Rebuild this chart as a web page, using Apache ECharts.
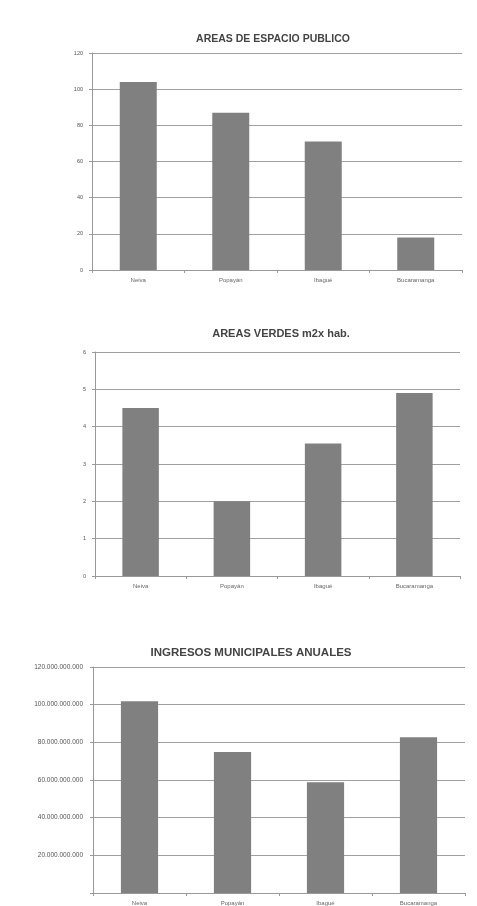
<!DOCTYPE html>
<html>
<head>
<meta charset="utf-8">
<script src="https://cdn.jsdelivr.net/npm/echarts@6/dist/echarts.min.js"></script>
<style>
html,body{margin:0;padding:0;background:#fff;}
#c{width:477px;height:906px;}
</style>
</head>
<body>
<div id="c"></div>
<script>
const categories = ["Neiva", "Popayán", "Ibagué", "Bucaramanga"];

const title1 = "AREAS DE ESPACIO PUBLICO";
const values1 = [104, 87, 71, 18];
const ticks1 = { min: 0, max: 120, interval: 20 };

const title2 = "AREAS VERDES m2x hab.";
const values2 = [4.5, 2.0, 3.55, 4.9];
const ticks2 = { min: 0, max: 6, interval: 1 };

const title3 = "INGRESOS MUNICIPALES ANUALES";
const values3 = [101800000000, 74900000000, 58800000000, 82700000000];
const ticks3 = { min: 0, max: 120000000000, interval: 20000000000 };

function fmtDots(v) {
  if (v === 0) return "";
  return String(Math.round(v)).replace(/\B(?=(\d{3})+(?!\d))/g, ".");
}

const grids = [
  { left: 92, right: 15, top: 53, height: 217 },
  { left: 95, right: 17, top: 352, height: 224 },
  { left: 93, right: 12, top: 667, height: 230 }
];
const titles = [
  { text: title1, left: 268, top: 29, size: 10.5 },
  { text: title2, left: 276, top: 323, size: 11 },
  { text: title3, left: 246, top: 642, size: 11.5 }
];
const vals = [values1, values2, values3];
const tks = [ticks1, ticks2, ticks3];

const option = {
  backgroundColor: "#ffffff",
  animation: false,
  title: titles.map(t => ({
    text: t.text, left: t.left, top: t.top, textAlign: "center",
    textStyle: { fontFamily: "Liberation Sans", fontSize: t.size, fontWeight: "bold", color: "#444" }
  })),
  grid: grids,
  xAxis: grids.map((g, i) => ({
    type: "category", gridIndex: i, data: categories,
    axisLine: { lineStyle: { color: "#999", width: 1 } },
    axisTick: { show: true, alignWithLabel: false, length: 3, lineStyle: { color: "#999" } },
    axisLabel: { fontSize: 6, color: "#666", margin: 7, fontFamily: "Liberation Sans" }
  })),
  yAxis: grids.map((g, i) => ({
    type: "value", gridIndex: i, min: tks[i].min, max: tks[i].max, interval: tks[i].interval,
    axisLine: { show: true, lineStyle: { color: "#999", width: 1 } },
    axisTick: { show: true, length: 3, lineStyle: { color: "#999" } },
    splitLine: { show: true, lineStyle: { color: "#a0a0a0", width: 1 } },
    axisLabel: {
      fontSize: i === 2 ? 6.5 : 5.5, color: "#555", margin: i === 2 ? 10 : 9, fontFamily: "Liberation Sans",
      formatter: i === 2 ? fmtDots : (v => String(v))
    }
  })),
  series: vals.map((v, i) => ({
    type: "bar", xAxisIndex: i, yAxisIndex: i, data: v,
    barWidth: "40%",
    itemStyle: { color: "#808080" }
  }))
};

const chart = echarts.init(document.getElementById("c"), null, { renderer: "canvas" });
chart.setOption(option);
</script>
</body>
</html>
